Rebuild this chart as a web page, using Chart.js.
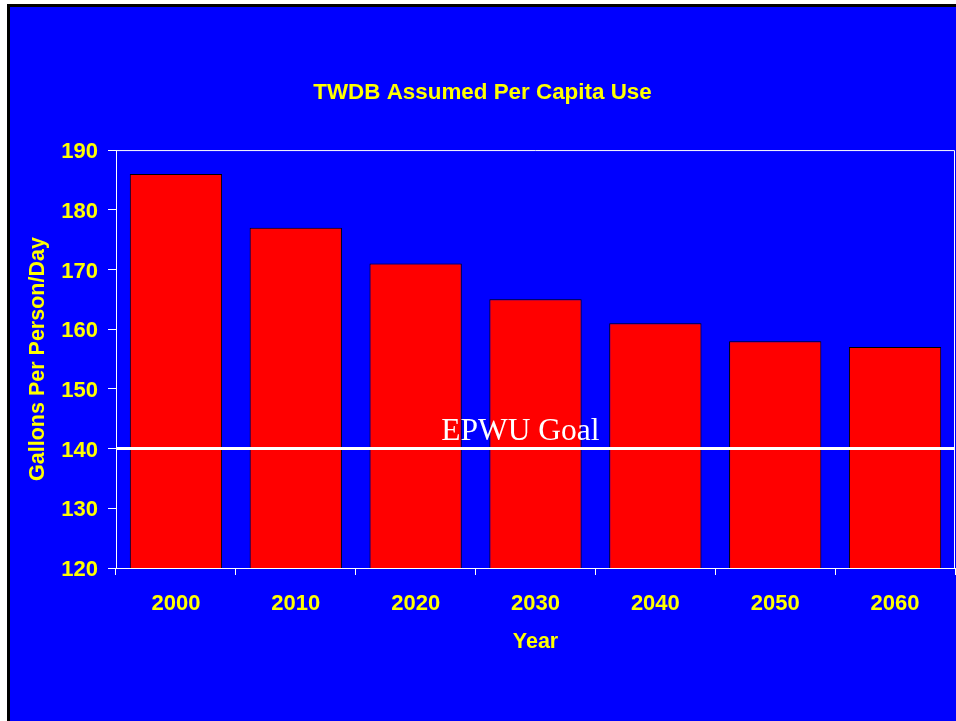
<!DOCTYPE html>
<html lang="en">
<head>
  <meta charset="UTF-8" />
  <title>TWDB Assumed Per Capita Use</title>
  <script src="https://cdn.jsdelivr.net/npm/chart.js"></script>
  <style>
    html, body {
      margin: 0;
      padding: 0;
      background: #ffffff;
      overflow: hidden;
    }
    /* slide frame: black edge at top/left, runs off the page right and bottom */
    #slide {
      position: absolute;
      left: 7px;
      top: 4px;
      width: 960px;
      height: 714px;
      border: 3px solid #000000;
      background: #0000ff;
    }
    #usageChart {
      display: block;
    }
  </style>
</head>
<body>

<div id="slide">
  <canvas id="usageChart" width="960" height="714"></canvas>
</div>

<script>
  // data
  const years = ['2000', '2010', '2020', '2030', '2040', '2050', '2060'];
  const gallonsPerDay = [186, 177, 171, 165, 161, 158, 157];
  const yTicks = { min: 120, max: 190, step: 10 };
  const goalValue = 140;
  const goalLabel = 'EPWU Goal';

  const yellow = '#ffff00';
  const sansBold = (size) => ({ family: '"Liberation Sans", Arial, sans-serif', size: size, weight: 'bold' });

  // white outline around the plot area
  const plotFrame = {
    id: 'plotFrame',
    afterDraw(chart) {
      const { ctx, chartArea: a } = chart;
      ctx.save();
      ctx.strokeStyle = '#ffffff';
      ctx.lineWidth = 1;
      ctx.beginPath();
      ctx.moveTo(a.left, a.top + 0.5);
      ctx.lineTo(a.right - 0.5, a.top + 0.5);
      ctx.lineTo(a.right - 0.5, a.bottom);
      ctx.stroke();
      ctx.restore();
    }
  };

  // EPWU goal line across the whole plot
  const goalLine = {
    id: 'goalLine',
    afterDatasetsDraw(chart) {
      const { ctx, chartArea: a, scales } = chart;
      const y = scales.y.getPixelForValue(goalValue);
      ctx.save();
      ctx.strokeStyle = '#ffffff';
      ctx.lineWidth = 3;
      ctx.beginPath();
      ctx.moveTo(a.left, y);
      ctx.lineTo(a.right, y);
      ctx.stroke();
      ctx.fillStyle = '#ffffff';
      ctx.font = '31.5px "Liberation Serif", "Times New Roman", serif';
      ctx.textAlign = 'center';
      ctx.textBaseline = 'alphabetic';
      ctx.fillText(goalLabel, a.left + (a.right - a.left) * 0.482, y - 9);
      ctx.restore();
    }
  };

  const ctx = document.getElementById('usageChart').getContext('2d');
  const usageChart = new Chart(ctx, {
    type: 'bar',
    data: {
      labels: years,
      datasets: [{
        label: 'Gallons Per Person/Day',
        data: gallonsPerDay,
        backgroundColor: '#ff0000',
        borderColor: '#000000',
        borderWidth: 1,
        categoryPercentage: 1,
        barPercentage: 0.77
      }]
    },
    options: {
      responsive: false,
      animation: false,
      devicePixelRatio: 1,
      layout: { padding: { left: 0, right: 15, top: 0, bottom: 0 } },
      plugins: {
        legend: { display: false },
        tooltip: { enabled: false },
        title: {
          display: true,
          text: 'TWDB Assumed Per Capita Use',
          color: yellow,
          font: sansBold(22.4),
          padding: { top: 72, bottom: 44.2 }
        }
      },
      scales: {
        x: {
          border: { display: true, color: '#ffffff', width: 1 },
          grid: {
            display: true,
            drawOnChartArea: false,
            drawTicks: true,
            tickLength: 7,
            color: '#ffffff'
          },
          ticks: { color: yellow, font: sansBold(22), padding: 16, maxRotation: 0 },
          title: {
            display: true,
            text: 'Year',
            color: yellow,
            font: sansBold(21.5),
            padding: { top: 0, bottom: 66 }
          },
          afterFit(scale) { scale.height = 153; }
        },
        y: {
          min: yTicks.min,
          max: yTicks.max,
          border: { display: true, color: '#ffffff', width: 1 },
          grid: {
            display: true,
            drawOnChartArea: false,
            drawTicks: true,
            tickLength: 8,
            color: '#ffffff'
          },
          ticks: { stepSize: yTicks.step, color: yellow, font: sansBold(22), padding: 10, labelOffset: 2 },
          title: {
            display: true,
            text: 'Gallons Per Person/Day',
            color: yellow,
            font: sansBold(21.5),
            padding: { top: 15, bottom: 0 }
          },
          afterFit(scale) { scale.width = 106; }
        }
      }
    },
    plugins: [plotFrame, goalLine]
  });
</script>

</body>
</html>
